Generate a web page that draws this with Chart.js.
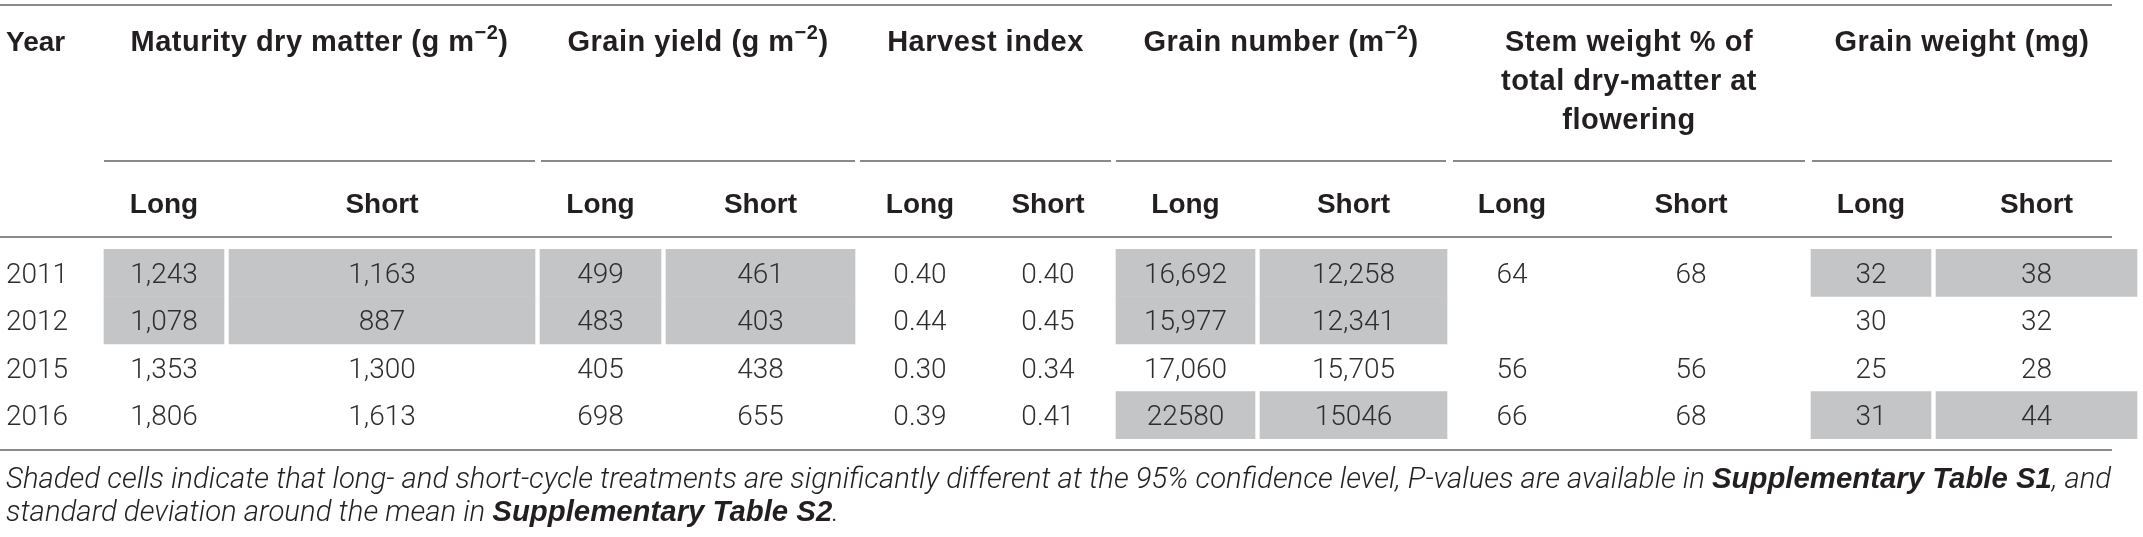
<!DOCTYPE html>
<html>
<head>
<meta charset="utf-8">
<title>Long vs short cycle</title>
<script src="https://cdn.jsdelivr.net/npm/chart.js@4.4.1/dist/chart.umd.min.js"></script>
<style>
  html, body { margin: 0; padding: 0; background: #fff; overflow: hidden; }
  canvas { display: block; }
</style>
</head>
<body>
<canvas id="tabla" width="2143" height="537"></canvas>
<script>
// Datos de la tabla
const years = ["2011", "2012", "2015", "2016"];
const maturityLong = ["1,243", "1,078", "1,353", "1,806"];
const maturityShort = ["1,163", "887", "1,300", "1,613"];
const yieldLong = ["499", "483", "405", "698"];
const yieldShort = ["461", "403", "438", "655"];
const harvestLong = ["0.40", "0.44", "0.30", "0.39"];
const harvestShort = ["0.40", "0.45", "0.34", "0.41"];
const grainNumLong = ["16,692", "15,977", "17,060", "22580"];
const grainNumShort = ["12,258", "12,341", "15,705", "15046"];
const stemLong = ["64", "", "56", "66"];
const stemShort = ["68", "", "56", "68"];
const grainWtLong = ["32", "30", "25", "31"];
const grainWtShort = ["38", "32", "28", "44"];

// celdas sombreadas = diferencia significativa (95%)
const sigMaturity = [true, true, false, false];
const sigYield = [true, true, false, false];
const sigHarvest = [false, false, false, false];
const sigGrainNum = [true, true, false, true];
const sigStem = [false, false, false, false];
const sigGrainWt = [true, false, false, true];

// textos
const yearTitle = "Year";
const subTitles = ["Long", "Short"];
const groupTitles = [
  ["Maturity dry matter (g m^−2^)"],
  ["Grain yield (g m^−2^)"],
  ["Harvest index"],
  ["Grain number (m^−2^)"],
  ["Stem weight % of", "total dry-matter at", "flowering"],
  ["Grain weight (mg)"]
];
const noteLines = [
  "Shaded cells indicate that long- and short-cycle treatments are significantly different at the 95% confidence level, P-values are available in *Supplementary Table S1*, and",
  "standard deviation around the mean in *Supplementary Table S2*."
];

// columnas de valores y grupo al que pertenecen
const valueCols = [maturityLong, maturityShort, yieldLong, yieldShort, harvestLong, harvestShort,
  grainNumLong, grainNumShort, stemLong, stemShort, grainWtLong, grainWtShort];
const groupSig = [sigMaturity, sigYield, sigHarvest, sigGrainNum, sigStem, sigGrainWt];

// --- maquetación (posiciones en px, no son datos) ---
const colEdges = [[0, 99], [104, 224], [229, 535], [540, 661], [666, 855], [860, 980], [985, 1111],
  [1116, 1255], [1260, 1447], [1453, 1571], [1576, 1806], [1811, 1931], [1936, 2137]];
const groupSpans = [[104, 535], [541, 855], [860, 1111], [1116, 1446], [1453, 1805], [1812, 2112]];
const ruleRight = 2112;
const pos = { topRule: 5, titleBase: 51, titleStep: 39, groupRule: 161, subBase: 213, subRule: 237,
  bottomRule: 450, note1: 488, note2: 521, textLeft: 6 };

const INK = "#231f20";
const BODY_INK = "#2e2e2e";
const SHADE = "#c4c5c7";
const RULE = "#8a8a8a";
const HEAD_FONT = "'Liberation Sans', Arial, sans-serif";
const BODY_FONT = "Roboto, 'Liberation Sans', sans-serif";

// conjuntos de barras flotantes = celdas sombreadas
const datasets = valueCols.map((col, c) => {
  const sig = groupSig[Math.floor(c / 2)];
  return {
    label: "col" + c,
    data: years.map((y, i) => sig[i] ? colEdges[c + 1] : null),
    backgroundColor: SHADE,
    borderWidth: 0,
    borderSkipped: false,
    barPercentage: 1,
    categoryPercentage: 1,
    grouped: false
  };
});

function drawRich(ctx, str, x, y, align, size, weight) {
  const parts = str.split("^");
  const segs = parts.map((t, i) => ({ t, sup: i % 2 === 1 }));
  const fontOf = s => `${weight} ${s.sup ? Math.round(size * 0.68) : size}px ${HEAD_FONT}`;
  let total = 0;
  segs.forEach(s => { ctx.font = fontOf(s); s.w = ctx.measureText(s.t).width; total += s.w; });
  let cx = align === "center" ? x - total / 2 : x;
  ctx.textAlign = "left";
  segs.forEach(s => {
    ctx.font = fontOf(s);
    ctx.fillText(s.t, cx, s.sup ? y - size * 0.42 : y);
    cx += s.w;
  });
}

function drawNote(ctx, str, x, y, size) {
  const parts = str.split("*");
  let cx = x;
  ctx.textAlign = "left";
  parts.forEach((t, i) => {
    ctx.font = i % 2 === 1 ? `italic bold ${size}px ${HEAD_FONT}` : `italic 300 ${size}px ${BODY_FONT}`;
    ctx.fillText(t, cx, y);
    cx += ctx.measureText(t).width;
  });
}

function noteWidth(ctx, str, size) {
  let w = 0;
  str.split("*").forEach((t, i) => {
    ctx.font = i % 2 === 1 ? `italic bold ${size}px ${HEAD_FONT}` : `italic 300 ${size}px ${BODY_FONT}`;
    w += ctx.measureText(t).width;
  });
  return w;
}

const tablePlugin = {
  id: "tabla",
  afterDatasetsDraw(chart) {
    const ctx = chart.ctx;
    const xs = chart.scales.x;
    const ys = chart.scales.y;
    const px = v => xs.getPixelForValue(v);
    const mid = c => px((colEdges[c][0] + colEdges[c][1]) / 2);

    ctx.save();
    // reglas
    ctx.strokeStyle = RULE;
    ctx.lineWidth = 2;
    const hline = (a, b, y) => { ctx.beginPath(); ctx.moveTo(px(a), y); ctx.lineTo(px(b), y); ctx.stroke(); };
    hline(0, ruleRight, pos.topRule);
    groupSpans.forEach(s => hline(s[0], s[1], pos.groupRule));
    hline(0, ruleRight, pos.subRule);
    hline(0, ruleRight, pos.bottomRule);

    // cabeceras
    ctx.fillStyle = INK;
    ctx.textBaseline = "alphabetic";
    drawRich(ctx, yearTitle, pos.textLeft, pos.titleBase, "left", 28, "bold");
    ctx.letterSpacing = "0.5px";
    groupTitles.forEach((lines, g) => {
      const cx = px((groupSpans[g][0] + groupSpans[g][1]) / 2);
      lines.forEach((ln, k) => drawRich(ctx, ln, cx, pos.titleBase + k * pos.titleStep, "center", 29, "bold"));
    });
    ctx.letterSpacing = "0px";
    valueCols.forEach((col, c) => {
      ctx.font = `bold 28px ${HEAD_FONT}`;
      ctx.textAlign = "center";
      ctx.fillText(subTitles[c % 2], mid(c + 1), pos.subBase);
    });

    // valores
    ctx.fillStyle = BODY_INK;
    ctx.font = `300 28px ${BODY_FONT}`;
    years.forEach((yr, i) => {
      const yb = ys.getPixelForValue(i) + 10;
      ctx.textAlign = "left";
      ctx.fillText(yr, pos.textLeft, yb);
      ctx.textAlign = "center";
      valueCols.forEach((col, c) => {
        if (col[i] !== "") ctx.fillText(col[i], mid(c + 1), yb);
      });
    });

    // nota al pie
    ctx.fillStyle = INK;
    let size = 26;
    const w1 = noteWidth(ctx, noteLines[0], size);
    size = Math.max(22, Math.min(30, size * (ruleRight - pos.textLeft) / w1));
    drawNote(ctx, noteLines[0], pos.textLeft, pos.note1, size);
    drawNote(ctx, noteLines[1], pos.textLeft, pos.note2, size);
    ctx.restore();
  }
};

const ctx = document.getElementById("tabla").getContext("2d");
new Chart(ctx, {
  type: "bar",
  data: { labels: years, datasets },
  options: {
    indexAxis: "y",
    responsive: false,
    animation: false,
    events: [],
    layout: { padding: { top: 249, bottom: 98, left: 0, right: 0 } },
    scales: {
      x: { type: "linear", min: 0, max: 2143, display: false },
      y: { type: "category", display: false, offset: true, grid: { offset: true } }
    },
    plugins: { legend: { display: false }, tooltip: { enabled: false } }
  },
  plugins: [tablePlugin]
});
</script>
</body>
</html>
